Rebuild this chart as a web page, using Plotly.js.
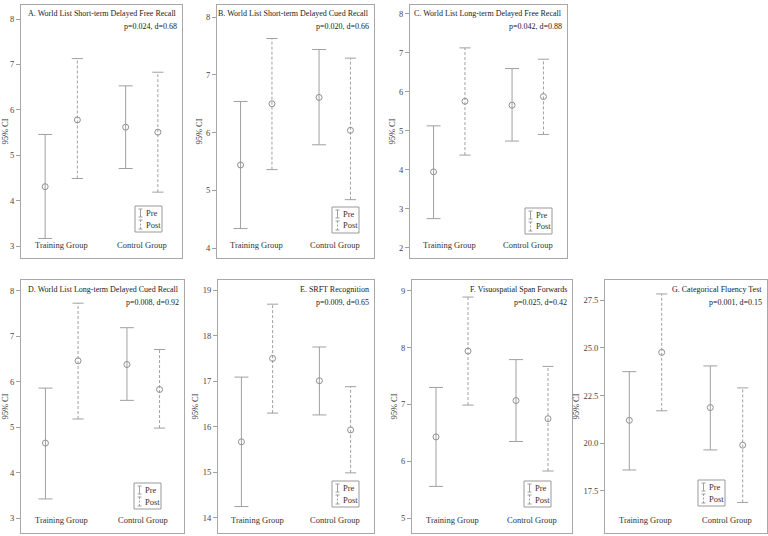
<!DOCTYPE html>
<html><head><meta charset="utf-8">
<script src="https://cdn.plot.ly/plotly-3.0.1.min.js"></script>
<style>html,body{margin:0;padding:0;background:#fff}#chart{width:768px;height:536px}</style>
</head><body><div id="chart"></div>
<script>
// ---- data ----
const panelTitles = [
  "A. World List Short-term Delayed Free Recall",
  "B. World List Short-term Delayed Cued Recall",
  "C. World List Long-term Delayed Free Recall",
  "D. World List Long-term Delayed Cued Recall",
  "E. SRFT Recognition",
  "F. Visuospatial Span Forwards",
  "G. Categorical Fluency Test"
];
const panelStats = ["p=0.024, d=0.68","p=0.020, d=0.66","p=0.042, d=0.88","p=0.008, d=0.92","p=0.009, d=0.65","p=0.025, d=0.42","p=0.001, d=0.15"];
const groupLabels = ["Training Group","Control Group"];
const seriesNames = ["Pre","Post"];
const yAxisTitle = "95% CI";

// [Training, Control] per panel
const preMean  = [[4.31,5.62],[5.44,6.61],[3.95,5.66],[4.65,6.38],[15.67,17.01],[6.43,7.07],[21.2,21.87]];
const preLow   = [[3.17,4.71],[4.34,5.79],[2.75,4.74],[3.42,5.59],[14.25,16.26],[5.56,6.35],[18.6,19.65]];
const preHigh  = [[5.46,6.53],[6.54,7.44],[5.13,6.60],[5.86,7.19],[17.09,17.75],[7.30,7.79],[23.75,24.05]];
const postMean = [[5.78,5.51],[6.50,6.04],[5.76,5.88],[6.46,5.83],[17.50,15.93],[7.94,6.75],[24.76,19.9]];
const postLow  = [[4.49,4.19],[5.36,4.84],[4.38,4.91],[5.18,4.98],[16.30,14.99],[6.99,5.83],[21.70,16.9]];
const postHigh = [[7.13,6.83],[7.63,7.29],[7.13,6.84],[7.73,6.71],[18.69,16.88],[8.89,7.67],[27.82,22.9]];

const yRanges = [[2.74,8.31],[3.83,8.21],[1.74,8.23],[2.67,8.24],[13.67,19.22],[4.74,9.19],[15.3,28.55]];
const yTick0  = [3,4,2,3,14,5,17.5];
const yDtick  = [1,1,1,1,1,1,2.5];
const yFormat = ["","","","","","",".1f"];

// ---- layout geometry (pixels) ----
const W = 768, H = 536;
const boxes = [[21,182,5,258],[217,374,5,258],[410,567,5,258],[21,184,280,533],[218,374,280,533],[412,572,280,533],[605,767,280,533]];
const legendPos = [[135,206],[332,207],[525,208],[134,483],[332,481],[524,481],[698,480]];
const groupX = [1,2];
const offset = 0.2;

const FONT = "Liberation Serif, Times New Roman, serif";
const LINEC = "#a0a0a0";
const BORDER = "#a8a8a8";
const TXT = "#333";

const traces = [];
const layout = {
  width: W, height: H, margin:{l:0,r:0,t:0,b:0},
  paper_bgcolor:"#fff", plot_bgcolor:"#fff", showlegend:false,
  font:{family:FONT, size:8.5, color:TXT},
  annotations:[], shapes:[]
};

for (let i=0;i<7;i++){
  const sfx = i===0 ? "" : String(i+1);
  const xa = "x"+sfx, ya = "y"+sfx;
  const [bx0,bx1,by0,by1] = boxes[i];
  layout["xaxis"+sfx] = {
    domain:[bx0/W, bx1/W], range:[0.5,2.5], anchor:ya,
    showline:true, mirror:true, linecolor:BORDER, linewidth:1,
    ticks:"", showticklabels:false, showgrid:false, zeroline:false, fixedrange:true
  };
  layout["yaxis"+sfx] = {
    domain:[1-by1/H, 1-by0/H], range:yRanges[i], anchor:xa,
    tick0:yTick0[i], dtick:yDtick[i], tickformat:yFormat[i],
    ticks:"outside", ticklen:4, tickwidth:1, tickcolor:LINEC,
    tickfont:{family:FONT, size:8.5, color:"#444"},
    showline:true, mirror:true, linecolor:BORDER, linewidth:1,
    showgrid:false, zeroline:false, fixedrange:true,
    title:{text:yAxisTitle, font:{family:FONT, size:8.5, color:TXT}, standoff:2}
  };
  const series = [
    {mean:preMean[i], low:preLow[i], high:preHigh[i], sign:-1, dash:"solid", cap:10},
    {mean:postMean[i], low:postLow[i], high:postHigh[i], sign:1, dash:"3px,2px", cap:8}
  ];
  series.forEach((s,si)=>{
    const xs = groupX.map(g=>g + s.sign*offset);
    const lx=[], ly=[];
    xs.forEach((xv,k)=>{ lx.push(xv,xv,null); ly.push(s.low[k],s.high[k],null); });
    traces.push({
      type:"scatter", mode:"lines+markers", xaxis:xa, yaxis:ya, name:seriesNames[si],
      x:lx, y:ly, line:{color:LINEC, width:1, dash:s.dash},
      marker:{symbol:"line-ew", size:s.cap, color:LINEC, line:{color:LINEC, width:1}},
      hoverinfo:"skip"
    });
    traces.push({
      type:"scatter", mode:"markers", xaxis:xa, yaxis:ya, name:seriesNames[si],
      x:xs, y:s.mean,
      marker:{symbol:"circle-open", size:6, color:"#909090", line:{color:"#909090", width:1}}
    });
  });
  // titles
  layout.annotations.push({
    text:panelTitles[i], xref:xa+" domain", yref:ya+" domain", x:1, y:1,
    xanchor:"right", yanchor:"middle", xshift:-3, yshift:-9, showarrow:false,
    font:{family:FONT, size:8, color:"#222"}
  });
  layout.annotations.push({
    text:panelStats[i], xref:xa+" domain", yref:ya+" domain", x:1, y:1,
    xanchor:"right", yanchor:"middle", xshift:-3, yshift:-22, showarrow:false,
    font:{family:FONT, size:8, color:"#222"}
  });
  // group labels
  groupX.forEach((g,k)=>{
    layout.annotations.push({
      text:groupLabels[k], xref:xa, yref:ya+" domain", x:g, y:0,
      xanchor:"center", yanchor:"middle", yshift:13, showarrow:false,
      font:{family:FONT, size:8.5, color:TXT}
    });
  });
  // legend box
  const [L,T] = legendPos[i];
  const X = p=>p/W, Y = p=>1-p/H;
  const ln = (x0,y0,x1,y1,dash)=>({type:"line", xref:"paper", yref:"paper", x0:X(x0), y0:Y(y0), x1:X(x1), y1:Y(y1), line:{color:LINEC, width:1, dash:dash||"solid"}});
  layout.shapes.push({type:"rect", xref:"paper", yref:"paper", x0:X(L), x1:X(L+27), y0:Y(T+26), y1:Y(T), line:{color:"#999", width:1}, fillcolor:"#fff"});
  const ix = L+5.5;
  layout.shapes.push(ln(ix,T+3,ix,T+11), ln(ix-2,T+3,ix+2,T+3), ln(ix-2,T+11,ix+2,T+11));
  layout.shapes.push(ln(ix,T+14,ix,T+23,"2px,1.5px"), ln(ix-2,T+14,ix+2,T+14), ln(ix-2,T+23,ix+2,T+23));
  layout.annotations.push({text:seriesNames[0], xref:"paper", yref:"paper", x:X(L+9), y:Y(T+7), xanchor:"left", yanchor:"middle", showarrow:false, font:{family:FONT, size:8.5, color:TXT}});
  layout.annotations.push({text:seriesNames[1], xref:"paper", yref:"paper", x:X(L+9), y:Y(T+18.5), xanchor:"left", yanchor:"middle", showarrow:false, font:{family:FONT, size:8.5, color:TXT}});
}

Plotly.newPlot("chart", traces, layout, {displayModeBar:false, staticPlot:true});
</script>
</body></html>
